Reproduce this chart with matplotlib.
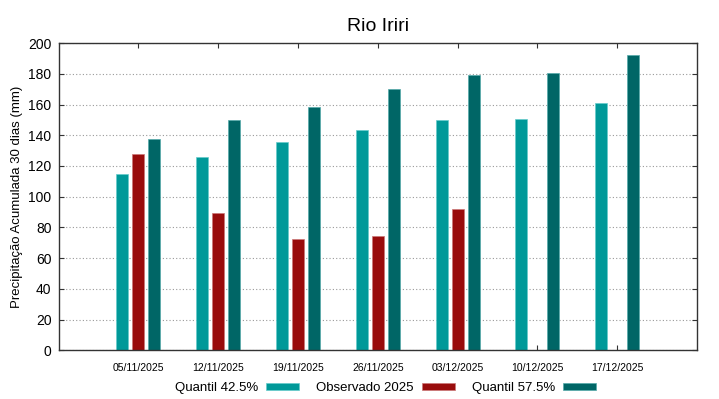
import matplotlib

matplotlib.use("Agg")
import matplotlib.pyplot as plt
import numpy as np

dates = ["05/11/2025", "12/11/2025", "19/11/2025", "26/11/2025",
         "03/12/2025", "10/12/2025", "17/12/2025"]
q425 = [114.6, 125.8, 135.8, 143.6, 149.7, 150.3, 161.2]
obs2025 = [127.6, 89.7, 72.8, 74.2, 92.3, None, None]
q575 = [137.3, 149.7, 158.7, 170.0, 178.9, 180.8, 192.3]

plt.rcParams["font.family"] = ["Liberation Sans", "DejaVu Sans"]

fig = plt.figure(figsize=(7.19, 3.99), dpi=100)
ax = fig.add_axes([0.0814, 0.1216, 0.888, 0.7706])

x = np.arange(len(dates))
w = 0.15
off = 0.2
obs_vals = [np.nan if v is None else v for v in obs2025]

ax.bar(x - off, q425, w, color="#009999", edgecolor="#66cccc", linewidth=0.5,
       label="Quantil 42.5%", zorder=3)
ax.bar(x, obs_vals, w, color="#990c0c", edgecolor="#cc7777", linewidth=0.5,
       label="Observado 2025", zorder=3)
ax.bar(x + off, q575, w, color="#006666", edgecolor="#55aaaa", linewidth=0.5,
       label="Quantil 57.5%", zorder=3)

ax.set_xlim(-1, 7)
ax.set_ylim(0, 200)
ax.set_yticks(range(0, 201, 20))
ax.set_xticks(x)
ax.set_xticklabels(dates, fontsize=7.5)
ax.tick_params(axis="y", labelsize=10, pad=5)
ax.tick_params(axis="x", pad=9)
ax.tick_params(direction="in", length=3.5, width=0.8, top=True, right=True,
               color="#333333")
ax.grid(axis="y", color="#999999", linestyle=(0, (1, 2)), linewidth=0.8, zorder=0)
for s in ax.spines.values():
    s.set_color("#333333")
    s.set_linewidth(1.0)
    s.set_zorder(4)

ax.set_ylabel("Precipitação Acumulada 30 dias (mm)", fontsize=9.5, labelpad=4)
ax.set_title("Rio Iriri", fontsize=14, pad=9)

ax.legend(loc="center", bbox_to_anchor=(0.512, -0.122), ncol=3, frameon=False,
          markerfirst=False, fontsize=9.5, handlelength=2.5, handleheight=0.45,
          columnspacing=1.3, handletextpad=0.6, borderpad=0)

fig.savefig("out.png", dpi=100)
